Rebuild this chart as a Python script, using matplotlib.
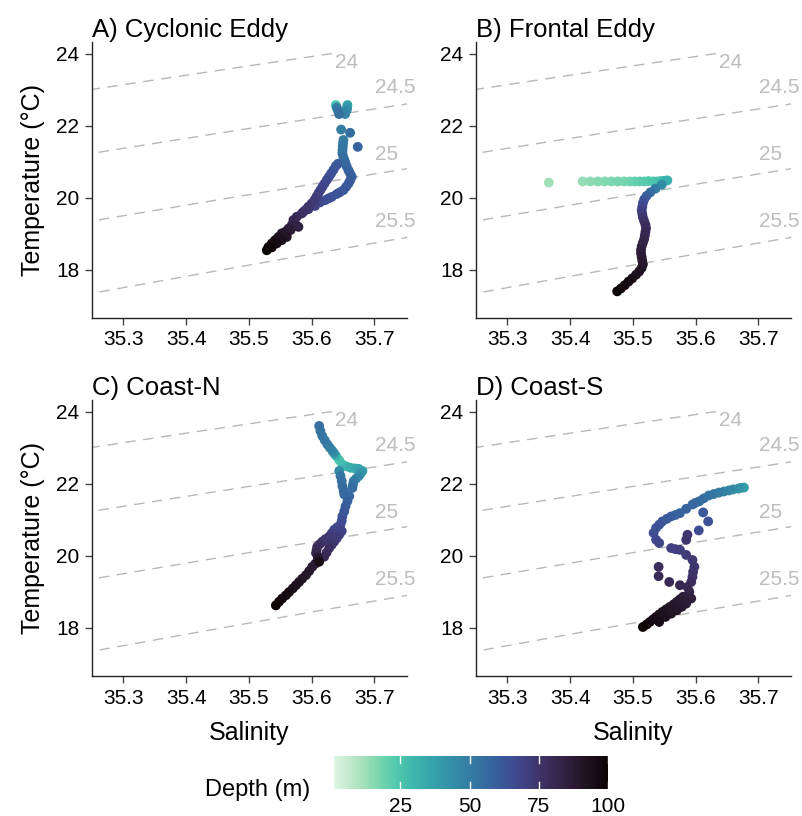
import numpy as np
import matplotlib.pyplot as plt
import seaborn as sns

plt.rcParams['font.family'] = ['Liberation Sans', 'DejaVu Sans']

# ---- profiles: salinity, temperature (degC), depth (m) ----
sal_a = [35.6385, 35.6400, 35.6417, 35.6438, 35.6571, 35.6565, 35.6560, 35.6533,
         35.6470, 35.6613, 35.6735,
         35.6507, 35.6500, 35.6496, 35.6493, 35.6490, 35.6505, 35.6523, 35.6540,
         35.6560, 35.6587, 35.6613, 35.6640, 35.6615, 35.6587, 35.6550, 35.6507,
         35.6450, 35.6400, 35.6321, 35.6270, 35.6215,
         35.6420, 35.6385, 35.6348, 35.6310, 35.6275, 35.6241, 35.6205, 35.6172,
         35.6140, 35.6108, 35.6075, 35.6045, 35.6000, 35.5949, 35.5910, 35.5870,
         35.6135, 35.6055, 35.5949, 35.5843, 35.5763, 35.5710, 35.5790, 35.5684,
         35.5630, 35.5577, 35.5524, 35.5471, 35.5418, 35.5365, 35.5312, 35.5285,
         35.5604, 35.5524, 35.5444, 35.5365, 35.5735, 35.5665]
temp_a = [22.57, 22.50, 22.43, 22.32, 22.57, 22.50, 22.43, 22.32,
          21.89, 21.80, 21.41,
          21.60, 21.50, 21.41, 21.32, 21.23, 21.13, 21.04, 20.95,
          20.86, 20.76, 20.67, 20.58, 20.48, 20.39, 20.30, 20.21,
          20.15, 20.10, 20.02, 19.98, 19.93,
          20.94, 20.88, 20.77, 20.67, 20.58, 20.49, 20.39, 20.30,
          20.21, 20.12, 20.02, 19.93, 19.84, 19.75, 19.67, 19.61,
          19.87, 19.77, 19.68, 19.56, 19.47, 19.38, 19.19, 19.24,
          19.14, 19.05, 19.01, 18.91, 18.82, 18.73, 18.63, 18.54,
          18.91, 18.82, 18.73, 18.62, 19.29, 19.10]
dep_a = [25, 48, 52, 54, 36, 40, 44, 47,
         50, 55, 58,
         50, 51, 52, 52, 53, 54, 55, 56,
         57, 58, 59, 60, 60, 61, 61, 62,
         62, 63, 63, 64, 65,
         60, 62, 63, 64, 65, 66, 67, 68,
         69, 70, 71, 72, 73, 74, 75, 76,
         67, 70, 74, 77, 79, 81, 84, 84,
         86, 88, 90, 92, 94, 96, 98, 100,
         91, 93, 95, 99, 82, 87]

sal_b = [35.366, 35.420, 35.432, 35.444, 35.455, 35.466, 35.476, 35.486, 35.495,
         35.503, 35.511, 35.518, 35.525, 35.532, 35.538, 35.544, 35.550, 35.555,
         35.546, 35.536, 35.528, 35.522, 35.518, 35.516, 35.515, 35.514, 35.515,
         35.516, 35.518, 35.520, 35.521, 35.520, 35.519, 35.518, 35.516, 35.514,
         35.513, 35.513, 35.514, 35.515, 35.516, 35.514, 35.510, 35.505, 35.499,
         35.493, 35.487, 35.481, 35.475]
temp_b = [20.42, 20.45, 20.45, 20.45, 20.45, 20.45, 20.45, 20.45, 20.45,
          20.45, 20.45, 20.45, 20.46, 20.45, 20.45, 20.46, 20.47, 20.48,
          20.36, 20.25, 20.15, 20.05, 19.95, 19.85, 19.75, 19.65, 19.55,
          19.45, 19.35, 19.25, 19.15, 19.05, 18.95, 18.85, 18.75, 18.65,
          18.55, 18.45, 18.35, 18.25, 18.15, 18.05, 17.95, 17.86, 17.76,
          17.67, 17.57, 17.48, 17.40]
dep_b = [12, 14, 15, 16, 16, 17, 18, 18, 19,
         20, 21, 22, 23, 24, 25, 27, 29, 32,
         44, 50, 55, 59, 62, 65, 67, 70, 72,
         74, 76, 78, 79, 80, 81, 82, 83, 84,
         85, 86, 87, 88, 89, 90, 92, 93, 94,
         96, 97, 98, 100]

sal_c = [35.612, 35.614, 35.617, 35.621, 35.625, 35.629, 35.633, 35.636, 35.639,
         35.644, 35.649, 35.655, 35.662, 35.669, 35.675, 35.681, 35.678, 35.675,
         35.671, 35.667, 35.666, 35.665,
         35.644, 35.646, 35.648, 35.649, 35.651, 35.652, 35.660, 35.657, 35.654,
         35.652, 35.649, 35.648, 35.646, 35.641, 35.636, 35.632, 35.628, 35.622,
         35.617, 35.613, 35.609, 35.608, 35.607, 35.610, 35.612,
         35.648, 35.644, 35.640, 35.636, 35.632, 35.628, 35.624, 35.620,
         35.606, 35.601, 35.596, 35.591, 35.585, 35.580, 35.575, 35.570, 35.564,
         35.559, 35.553, 35.548, 35.543]
temp_c = [23.60, 23.46, 23.32, 23.20, 23.09, 23.00, 22.91, 22.84, 22.77,
          22.65, 22.53, 22.48, 22.44, 22.42, 22.41, 22.35, 22.28, 22.21,
          22.14, 22.07, 21.98, 21.88,
          22.35, 22.21, 22.07, 21.93, 21.80, 21.70, 21.65, 21.51, 21.37,
          21.23, 21.09, 20.97, 20.86, 20.79, 20.72, 20.62, 20.53, 20.46,
          20.39, 20.32, 20.25, 20.16, 20.07, 19.95, 19.83,
          20.68, 20.58, 20.48, 20.39, 20.30, 20.21, 20.09, 19.97,
          19.78, 19.69, 19.57, 19.46, 19.36, 19.27, 19.18, 19.09, 18.99,
          18.90, 18.81, 18.72, 18.62]
dep_c = [54, 53, 52, 51, 50, 48, 46, 42, 30,
         25, 27, 30, 32, 34, 36, 38, 41, 44,
         47, 50, 53, 55,
         45, 52, 54, 55, 56, 57, 56, 58, 60,
         62, 63, 65, 66, 67, 68, 70, 72, 74,
         75, 77, 78, 80, 82, 88, 95,
         69, 70, 72, 73, 75, 77, 79, 80,
         86, 88, 89, 90, 91, 92, 93, 94, 95,
         96, 97, 98, 100]

sal_d = [35.677, 35.672, 35.668, 35.660, 35.653, 35.645, 35.637, 35.629, 35.621,
         35.613, 35.606, 35.600, 35.595, 35.585, 35.575, 35.568, 35.561, 35.554,
         35.547, 35.542, 35.537, 35.533, 35.537, 35.542,
         35.561, 35.568, 35.575, 35.585, 35.595, 35.598, 35.596, 35.595, 35.593,
         35.587,
         35.585, 35.587, 35.541, 35.541, 35.558, 35.575,
         35.590, 35.593, 35.585, 35.578, 35.570, 35.561, 35.552, 35.542, 35.580,
         35.575, 35.570, 35.565, 35.559, 35.553, 35.547, 35.542, 35.537, 35.532,
         35.527, 35.522, 35.516,
         35.612, 35.620, 35.605]
temp_d = [21.89, 21.88, 21.86, 21.84, 21.81, 21.78, 21.75, 21.71, 21.67,
          21.59, 21.51, 21.47, 21.42, 21.30, 21.18, 21.13, 21.09, 21.02,
          20.95, 20.86, 20.77, 20.63, 20.44, 20.35,
          20.21, 20.18, 20.16, 20.02, 19.88, 19.69, 19.55, 19.41, 19.27,
          19.13,
          20.44, 20.58, 19.69, 19.43, 19.27, 19.18,
          19.00, 18.81, 18.67, 18.58, 18.48, 18.39, 18.30, 18.16, 18.86,
          18.79, 18.72, 18.65, 18.58, 18.51, 18.44, 18.37, 18.30, 18.23,
          18.16, 18.09, 18.02,
          21.20, 20.95, 20.70]
dep_d = [38, 40, 42, 44, 46, 48, 50, 52, 53,
         54, 55, 56, 57, 58, 58, 59, 60, 61,
         62, 63, 64, 65, 67, 68,
         70, 70, 71, 72, 73, 74, 75, 76, 78,
         80,
         75, 74, 78, 79, 80, 81,
         82, 85, 87, 88, 90, 91, 93, 95, 86,
         87, 88, 89, 90, 91, 92, 93, 94, 95,
         96, 98, 100,
         62, 64, 66]

titles = ['A) Cyclonic Eddy', 'B) Frontal Eddy', 'C) Coast-N', 'D) Coast-S']
sigma_levels = [24, 24.5, 25, 25.5]
sigma_label_pos = [(35.655, 23.74), (35.733, 23.05), (35.720, 21.21), (35.733, 19.33)]


def sigma_theta(s, t):
    # simple quadratic equation of state (linear in S), sigma in kg m-3
    return 24.7538 + 0.765 * (s - 35.25) - 0.266 * (t - 20.29) - 0.00433 * (t - 20.29) ** 2


sg, tg = np.meshgrid(np.linspace(35.25, 35.76, 200), np.linspace(17, 24, 200))
dens = sigma_theta(sg, tg)

cmap = sns.color_palette('mako_r', as_cmap=True)
vmin, vmax = 1, 100

fig = plt.figure(figsize=(8.03, 8.16), dpi=100)
W, H = 803, 816
boxes = [(92, 42), (476, 42), (92, 400), (476, 400)]
pw, ph = 315, 276
datasets = [(sal_a, temp_a, dep_a), (sal_b, temp_b, dep_b),
            (sal_c, temp_c, dep_c), (sal_d, temp_d, dep_d)]

for i, ((x0, y0), (s, t, d)) in enumerate(zip(boxes, datasets)):
    ax = fig.add_axes([x0 / W, 1 - (y0 + ph) / H, pw / W, ph / H])
    ax.contour(sg, tg, dens, levels=sigma_levels, colors='#b8b8b8',
               linewidths=1.0, linestyles=[(0, (7.5, 5.5))], zorder=1)
    for lev, (lx, ly) in zip(sigma_levels, sigma_label_pos):
        ax.text(lx, ly, f'{lev:g}', color='#bdbdbd', fontsize=15,
                ha='center', va='center', clip_on=False, zorder=1)
    order = np.argsort(d, kind='stable')
    sc = ax.scatter(np.array(s)[order], np.array(t)[order], c=np.array(d)[order],
                    cmap=cmap, vmin=vmin, vmax=vmax, s=50, linewidths=0, zorder=3)
    ax.set_xlim(35.25, 35.752)
    ax.set_ylim(16.66, 24.32)
    ax.set_xticks([35.3, 35.4, 35.5, 35.6, 35.7])
    ax.set_yticks([18, 20, 22, 24])
    for side in ['top', 'right']:
        ax.spines[side].set_visible(False)
    for side in ['left', 'bottom']:
        ax.spines[side].set_color('#222222')
        ax.spines[side].set_linewidth(1.0)
    ax.tick_params(labelsize=15, length=5, width=1, color='#444444', pad=4)
    ax.set_title(titles[i], loc='left', fontsize=18.5, pad=3)
    if i % 2 == 0:
        ax.set_ylabel('Temperature (°C)', fontsize=18, labelpad=8)
    if i >= 2:
        ax.set_xlabel('Salinity', fontsize=18, labelpad=10)

cax = fig.add_axes([334 / W, 1 - 789 / H, 274 / W, 33 / H])
cb = fig.colorbar(sc, cax=cax, orientation='horizontal', ticks=[25, 50, 75, 100])
cb.outline.set_visible(False)
cax.tick_params(labelsize=15, length=0, pad=6)
for v in [25, 50, 75, 100]:
    cax.axvline(v, ymin=0, ymax=0.22, color='white', lw=1)
    cax.axvline(v, ymin=0.78, ymax=1, color='white', lw=1)
fig.text(205 / W, 1 - 790 / H, 'Depth (m)', fontsize=17, va='center', ha='left')

fig.savefig('out.png', dpi=100)
